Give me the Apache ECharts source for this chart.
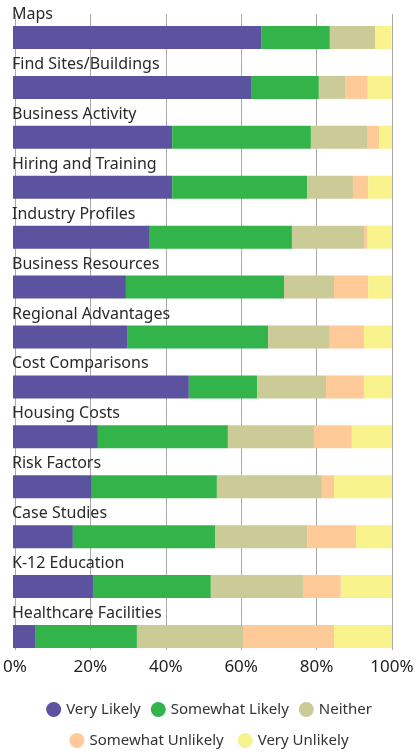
<!DOCTYPE html>
<html>
<head>
<meta charset="utf-8">
<script src="https://cdn.jsdelivr.net/npm/echarts@6/dist/echarts.min.js"></script>
<style>
  html, body { margin: 0; padding: 0; background: #fff; }
  #chart { width: 418px; height: 755px; }
</style>
</head>
<body>
<div id="chart"></div>
<script>
const categories = [
  'Maps', 'Find Sites/Buildings', 'Business Activity', 'Hiring and Training',
  'Industry Profiles', 'Business Resources', 'Regional Advantages',
  'Cost Comparisons', 'Housing Costs', 'Risk Factors', 'Case Studies',
  'K-12 Education', 'Healthcare Facilities'
]
const veryLikely       = [65.6, 62.8, 42.0, 42.0, 36.1, 29.8, 30.1, 46.4, 22.4, 20.8, 15.8, 21.1, 5.8]
const somewhatLikely   = [18.0, 17.9, 36.6, 35.6, 37.5, 41.7, 37.2, 18.0, 34.3, 33.0, 37.5, 31.1, 26.9]
const neither          = [12.0, 6.9, 15.0, 12.1, 19.0, 13.2, 16.3, 18.2, 22.7, 27.7, 24.3, 24.3, 28.0]
const somewhatUnlikely = [0, 6.0, 3.0, 4.0, 0.8, 9.0, 9.0, 10.0, 10.0, 3.2, 12.9, 10.0, 24.0]
const veryUnlikely     = [4.3, 6.4, 3.4, 6.3, 6.6, 6.3, 7.4, 7.4, 10.6, 15.3, 9.5, 14.3, 15.3]
const tickValues = [0, 20, 40, 60, 80, 100]

const seriesNames = ['Very Likely', 'Somewhat Likely', 'Neither', 'Somewhat Unlikely', 'Very Unlikely']
const seriesData = [veryLikely, somewhatLikely, neither, somewhatUnlikely, veryUnlikely]
const colors = ['#5c53a0', '#33b44a', '#cbcb98', '#fdca98', '#f8f38d']

const font = 'Noto Sans'
const chart = echarts.init(document.getElementById('chart'))

chart.setOption({
  animation: false,
  color: colors,
  grid: [
    // bars
    { left: 13, right: 26, top: 12.5, height: 649 },
    // gridlines + tick labels
    { left: 13, right: 26, top: 14, height: 636 }
  ],
  xAxis: [
    {
      gridIndex: 0, type: 'value', min: 0, max: 100,
      show: false
    },
    {
      gridIndex: 1, type: 'value', min: 0, max: 100, interval: 20,
      axisLine: { show: false },
      axisTick: { show: false },
      splitLine: { show: true, lineStyle: { color: '#a8a8a8', width: 1 } },
      axisLabel: {
        margin: 9,
        fontFamily: font, fontSize: 17, color: '#222',
        formatter: (v) => tickValues.includes(v) ? v + '%' : ''
      }
    }
  ],
  yAxis: [
    {
      gridIndex: 0, type: 'category', data: categories, inverse: true,
      axisLine: { show: false },
      axisTick: { show: false },
      splitLine: { show: false },
      axisLabel: {
        inside: true, margin: -1,
        verticalAlign: 'bottom',
        padding: [0, 0, 15, 0],
        fontFamily: font, fontSize: 16, color: '#2a2a2a'
      },
      z: 10
    },
    { gridIndex: 1, type: 'value', show: false }
  ],
  legend: [
    {
      data: seriesNames.slice(0, 3),
      top: 697, left: 'center',
      icon: 'circle', itemWidth: 15, itemHeight: 15, itemGap: 10,
      textStyle: { fontFamily: font, fontSize: 15, color: '#333', padding: [8, 0, 0, 0] }
    },
    {
      data: seriesNames.slice(3),
      top: 728, left: 'center',
      icon: 'circle', itemWidth: 15, itemHeight: 15, itemGap: 14,
      textStyle: { fontFamily: font, fontSize: 15, color: '#333', padding: [8, 0, 0, 0] }
    }
  ],
  series: seriesNames.map((name, i) => ({
    name,
    type: 'bar',
    stack: 'total',
    xAxisIndex: 0,
    yAxisIndex: 0,
    barWidth: 23,
    data: seriesData[i],
    itemStyle: { color: colors[i] },
    z: 5
  }))
})
</script>
</body>
</html>
